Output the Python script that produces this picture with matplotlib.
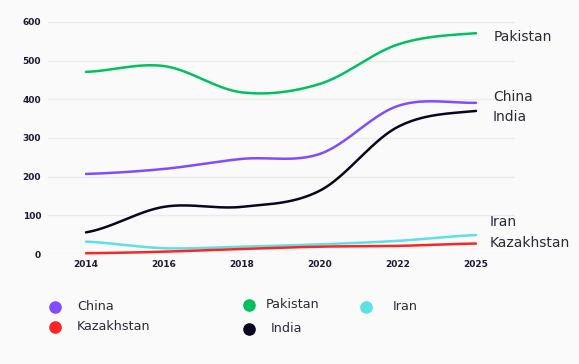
import numpy as np
import matplotlib
matplotlib.use("Agg")
import matplotlib.pyplot as plt

years = ["2014", "2016", "2018", "2020", "2022", "2025"]
china = [207, 220, 246, 259, 383, 391]
pakistan = [471, 486, 418, 440, 542, 571]
india = [56, 122, 122, 164, 329, 370]
iran = [32, 15, 19, 25, 34, 49]
kazakhstan = [2, 6, 13, 19, 21, 27]

series = [
    ("Pakistan", pakistan, "#00c060"),
    ("China", china, "#7f4dff"),
    ("India", india, "#0a0520"),
    ("Iran", iran, "#5ce1e6"),
    ("Kazakhstan", kazakhstan, "#ff2424"),
]

def smooth(x, y, n=300, k=0.5):
    x = np.asarray(x, float); y = np.asarray(y, float)
    m = np.zeros_like(y)
    m[1:-1] = k * (y[2:] - y[:-2]) / 1.0
    m[0] = (y[1] - y[0]) * 0.5
    m[-1] = (y[-1] - y[-2]) * 0.5
    xs = np.linspace(x[0], x[-1], n)
    ys = np.empty_like(xs)
    for j, xv in enumerate(xs):
        i = min(int(np.floor(xv - x[0])), len(x) - 2)
        t = xv - x[i]
        h00 = 2*t**3 - 3*t**2 + 1; h10 = t**3 - 2*t**2 + t
        h01 = -2*t**3 + 3*t**2; h11 = t**3 - t**2
        ys[j] = h00*y[i] + h10*m[i] + h01*y[i+1] + h11*m[i+1]
    return xs, ys

bg = "#fafafa"
fig = plt.figure(figsize=(5.79, 3.64), dpi=100, facecolor=bg)
ax = fig.add_axes([48/579, 1-254/364, (515-48)/579, (254-22)/364], facecolor=bg)

x = np.arange(len(years))
for name, vals, col in series:
    xs, ys = smooth(x, vals)
    ax.plot(xs, ys, color=col, lw=1.8, solid_capstyle="round", clip_on=False, zorder=3)

ax.set_xlim((48-86)/78, (515-86)/78)
ax.set_ylim(0, 600)
ax.set_yticks(range(0, 601, 100))
ax.set_xticks(x)
ax.set_xticklabels(years)
ax.grid(axis="y", color="#ebebeb", lw=1.0)
ax.set_axisbelow(True)
for s in ax.spines.values():
    s.set_visible(False)
ax.tick_params(length=0, labelsize=6.5, labelcolor="#1a1a33", pad=5)
for lab in ax.get_xticklabels() + ax.get_yticklabels():
    lab.set_fontweight("bold")
ax.tick_params(axis="x", pad=4)

label_pos = {"Pakistan": (494, 37), "China": (493, 97), "India": (493, 117),
             "Iran": (490, 222), "Kazakhstan": (490, 243)}
for name, vals, col in series:
    px, py = label_pos[name]
    fig.text(px/579, 1-py/364, name, fontsize=10, color="#2a2a3a", va="center", ha="left")

leg = [("China", "#7f4dff", 55, 307, 77),
       ("Kazakhstan", "#ff2424", 55, 327, 77),
       ("Pakistan", "#00c060", 249, 305, 266),
       ("India", "#0a0520", 249, 329, 271),
       ("Iran", "#5ce1e6", 366, 307, 393)]
lax = fig.add_axes([0, 0, 1, 1], facecolor="none")
lax.set_xlim(0, 579); lax.set_ylim(364, 0); lax.axis("off")
for name, col, mx, my, tx in leg:
    lax.scatter([mx], [my], s=65, marker="o", color=col, zorder=3)
    lax.text(tx, my, name, fontsize=9.2, color="#2a2a3a", va="center", ha="left")

fig.savefig("out.png", dpi=100, facecolor=bg)
